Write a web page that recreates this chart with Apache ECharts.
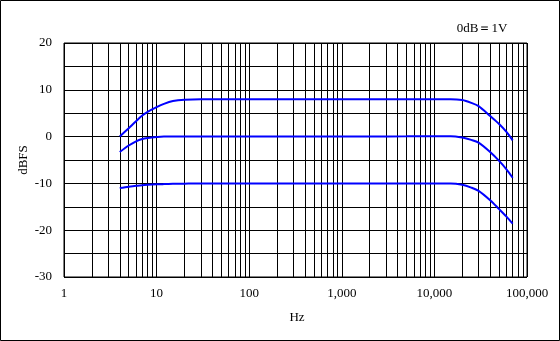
<!DOCTYPE html>
<html><head><meta charset="utf-8">
<script src="https://cdn.jsdelivr.net/npm/echarts@6/dist/echarts.min.js"></script>
<style>html,body{margin:0;padding:0;background:#fff}#c{width:560px;height:341px}</style>
</head><body><div id="c"></div>
<script>
// Frequencies (Hz)
const freqs = [4,5,6,7,8,10,12,15,20,30,50,100,200,500,1000,2000,5000,10000,15000,20000,25000,30000,40000,50000,60000,70000];
// Series values (dBFS)
const level8 = [0,1.8,3.3,4.5,5.3,6.3,7.0,7.6,7.9,8,8,8,8,8,8,8,8,8,8,7.8,7.2,6.5,4.4,2.7,1.0,-0.8];
const level0 = [-3.3,-1.9,-1.0,-0.5,-0.3,-0.1,0,0,0,0,0,0,0,0,0,0,0.05,0.1,0.1,-0.2,-0.7,-1.3,-3.3,-5.2,-7.0,-8.8];
const levelM10 = [-11.0,-10.7,-10.5,-10.4,-10.3,-10.2,-10.15,-10.1,-10.05,-10,-10,-10,-10,-10,-10,-10,-10,-10,-10,-10.3,-10.9,-11.6,-13.6,-15.5,-17.1,-18.6];
// Axis ticks
const xMin = 1, xMax = 100000;
const yMin = -30, yMax = 20, yStep = 5;
const xLabels = {1:'1',10:'10',100:'100',1000:'1,000',10000:'10,000',100000:'100,000'};
const minorX = [];
for (let d = 1; d < xMax; d *= 10) for (let k = 2; k <= 9; k++) minorX.push(d * k);

const serif = 'Liberation Serif';
const mk = (vals) => freqs.map((f, i) => [f, vals[i]]);
const lineS = (name, vals) => ({
  name, type: 'line', data: mk(vals), showSymbol: false, smooth: 0.3,
  lineStyle: { color: '#0000ff', width: 2 }, itemStyle: { color: '#0000ff' }, z: 5
});

const chart = echarts.init(document.getElementById('c'), null, { renderer: 'canvas' });
chart.setOption({
  animation: false,
  backgroundColor: '#fff',
  grid: { left: 64, top: 43, right: 33, bottom: 64, show: true, borderColor: '#000', borderWidth: 1 },
  xAxis: {
    type: 'log', logBase: 10, min: xMin, max: xMax,
    axisLine: { show: false }, axisTick: { show: false },
    splitLine: { show: true, lineStyle: { color: '#000', width: 1 } },
    axisLabel: { color: '#000', fontFamily: serif, fontSize: 13, margin: 10,
      formatter: v => xLabels[Math.round(v)] || '' }
  },
  yAxis: {
    type: 'value', min: yMin, max: yMax, interval: yStep,
    axisLine: { show: false }, axisTick: { show: false },
    splitLine: { show: true, lineStyle: { color: '#000', width: 1 } },
    axisLabel: { color: '#000', fontFamily: serif, fontSize: 13, margin: 12,
      formatter: v => (v % 10 === 0 ? String(v) : '') }
  },
  graphic: [
    { type: 'rect', shape: { x: 0.5, y: 0.5, width: 559, height: 340 }, style: { fill: 'none', stroke: '#000', lineWidth: 1 }, silent: true },
    { type: 'text', x: 24, y: 160, rotation: Math.PI / 2, style: { text: 'dBFS', fill: '#000', fontFamily: serif, fontSize: 13, align: 'center', verticalAlign: 'middle' } },
    { type: 'text', x: 297, y: 318, style: { text: 'Hz', fill: '#000', fontFamily: serif, fontSize: 13, align: 'center', verticalAlign: 'middle' } },
    { type: 'text', x: 482, y: 29, style: { text: '0dB＝1V', fill: '#000', fontFamily: serif, fontSize: 13, align: 'center', verticalAlign: 'middle' } }
  ],
  series: [
    {
      type: 'line', data: [], silent: true,
      markLine: {
        silent: true, symbol: 'none', animation: false,
        label: { show: false },
        lineStyle: { color: '#000', width: 1, type: 'solid' },
        data: minorX.map(v => ({ xAxis: v }))
      }
    },
    lineS('8 dB', level8),
    lineS('0 dB', level0),
    lineS('-10 dB', levelM10)
  ]
});
</script></body></html>
